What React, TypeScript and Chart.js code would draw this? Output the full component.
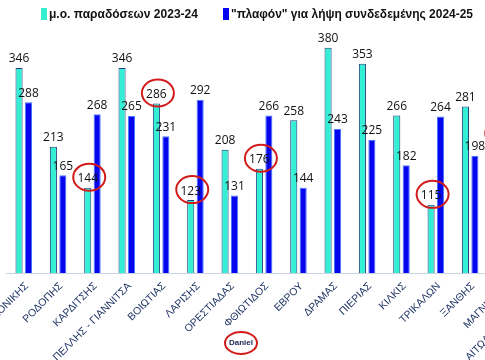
import React, { useEffect, useRef } from 'react';
import { Chart, registerables } from 'chart.js';

Chart.register(...registerables);

const categories = [
  'ΘΕΣΣΑΛΟΝΙΚΗΣ',
  'ΡΟΔΟΠΗΣ',
  'ΚΑΡΔΙΤΣΗΣ',
  'ΠΕΛΛΗΣ - ΓΙΑΝΝΙΤΣΑ',
  'ΒΟΙΩΤΙΑΣ',
  'ΛΑΡΙΣΗΣ',
  'ΟΡΕΣΤΙΑΔΑΣ',
  'ΦΘΙΩΤΙΔΟΣ',
  'ΕΒΡΟΥ',
  'ΔΡΑΜΑΣ',
  'ΠΙΕΡΙΑΣ',
  'ΚΙΛΚΙΣ',
  'ΤΡΙΚΑΛΩΝ',
  'ΞΑΝΘΗΣ',
  'ΜΑΓΝΗΣΙΑΣ',
  'ΑΙΤΩΛΟΑΚΑΡΝΑΝΙΑΣ',
];

const deliveries2324 = [346, 213, 144, 346, 286, 123, 208, 176, 258, 380, 353, 266, 115, 281, 218, null];
const ceiling2425 = [288, 165, 268, 265, 231, 292, 131, 266, 144, 243, 225, 182, 264, 198, null, null];

const seriesLabels = ['μ.ο. παραδόσεων 2023-24', '"πλαφόν" για λήψη συνδεδεμένης 2024-25'];
const circledIndices = [2, 4, 5, 7, 12, 14];
const signature = 'Daniel';

const CYAN = '#33F0D4';
const CYAN_BORDER = '#1F3F80';
const BLUE = '#0606EE';
const BLUE_BORDER = '#4677FF';
const RED = '#D21C1C';

const dataLabelsPlugin = {
  id: 'dataLabels',
  afterDatasetsDraw(chart: any) {
    const ctx = chart.ctx;
    ctx.save();
    ctx.font = '12px "Open Sans", "DejaVu Sans", sans-serif';
    ctx.fillStyle = '#111111';
    ctx.textAlign = 'center';
    ctx.textBaseline = 'bottom';
    chart.data.datasets.forEach((ds: any, di: number) => {
      const meta = chart.getDatasetMeta(di);
      meta.data.forEach((el: any, i: number) => {
        const v = ds.data[i];
        if (v == null) return;
        ctx.fillText(String(v), el.x, el.y - 3);
      });
    });
    ctx.restore();
  },
};

const annotationPlugin = {
  id: 'annotations',
  afterDraw(chart: any) {
    const ctx = chart.ctx;
    ctx.save();
    const meta = chart.getDatasetMeta(0);
    ctx.strokeStyle = RED;
    ctx.lineWidth = 2;
    circledIndices.forEach((i) => {
      const el = meta.data[i];
      if (!el || chart.data.datasets[0].data[i] == null) return;
      ctx.beginPath();
      ctx.ellipse(el.x + 1.5, el.y - 10.5, 16, 13.5, 0, 0, Math.PI * 2);
      ctx.stroke();
    });

    const items = chart.data.datasets.map((ds: any) => ({
      text: ds.label,
      fill: ds.backgroundColor,
    }));
    const legendPos = [
      { x: 41, w: 149 },
      { x: 223, w: 242 },
    ];
    ctx.font = 'bold 13px "Liberation Sans Narrow", "Arial Narrow", "Liberation Sans", sans-serif';
    ctx.textAlign = 'left';
    ctx.textBaseline = 'middle';
    items.forEach((it: any, k: number) => {
      const p = legendPos[k];
      ctx.fillStyle = it.fill;
      ctx.fillRect(p.x, 8, 6, 12);
      ctx.fillStyle = '#111111';
      ctx.fillText(it.text, p.x + 8, 14, p.w);
    });

    ctx.strokeStyle = RED;
    ctx.lineWidth = 2;
    ctx.beginPath();
    ctx.ellipse(241, 343, 16, 11, 0, 0, Math.PI * 2);
    ctx.stroke();
    ctx.font = 'bold 8px "Liberation Sans", Arial, sans-serif';
    ctx.fillStyle = '#1A2550';
    ctx.textAlign = 'center';
    ctx.textBaseline = 'middle';
    ctx.fillText(signature, 241, 343);
    ctx.restore();
  },
};

export default function App() {
  const ref = useRef<HTMLCanvasElement>(null);

  useEffect(() => {
    const canvas = ref.current;
    if (!canvas) return;
    const chart = new Chart(canvas, {
      type: 'bar',
      data: {
        labels: categories,
        datasets: [
          {
            label: seriesLabels[0],
            data: deliveries2324 as any,
            backgroundColor: CYAN,
            borderColor: CYAN_BORDER,
            borderWidth: 1,
            barPercentage: 0.75,
            categoryPercentage: 0.55,
          },
          {
            label: seriesLabels[1],
            data: ceiling2425 as any,
            backgroundColor: BLUE,
            borderColor: BLUE_BORDER,
            borderWidth: 1,
            barPercentage: 0.75,
            categoryPercentage: 0.55,
          },
        ],
      },
      options: {
        responsive: false,
        animation: false,
        layout: { padding: { left: 6.6, right: 0, top: 36, bottom: 0 } },
        plugins: {
          legend: { display: false },
          tooltip: { enabled: false },
        },
        scales: {
          x: {
            grid: { display: false, drawTicks: false },
            border: { display: true, color: '#C9D3E2', width: 1 },
            ticks: {
              autoSkip: false,
              minRotation: 45,
              maxRotation: 45,
              padding: 7,
              labelOffset: 3,
              color: '#1F3464',
              font: { family: '"Liberation Sans", Arial, sans-serif', size: 10.5 },
            },
            afterFit: (scale: any) => {
              scale.height = 87;
              scale.paddingLeft = 0;
              scale.paddingRight = 0;
            },
          },
          y: {
            display: false,
            min: 0,
            max: 400,
          },
        },
      },
      plugins: [dataLabelsPlugin, annotationPlugin],
    });
    return () => chart.destroy();
  }, []);

  return (
    <div
      style={{
        position: 'absolute',
        left: 0,
        top: 0,
        width: 485,
        height: 360,
        overflow: 'hidden',
        background: '#ffffff',
      }}
    >
      <canvas
        ref={ref}
        width={556}
        height={360}
        style={{ position: 'absolute', left: 0, top: 0, width: 556, height: 360 }}
      />
    </div>
  );
}
